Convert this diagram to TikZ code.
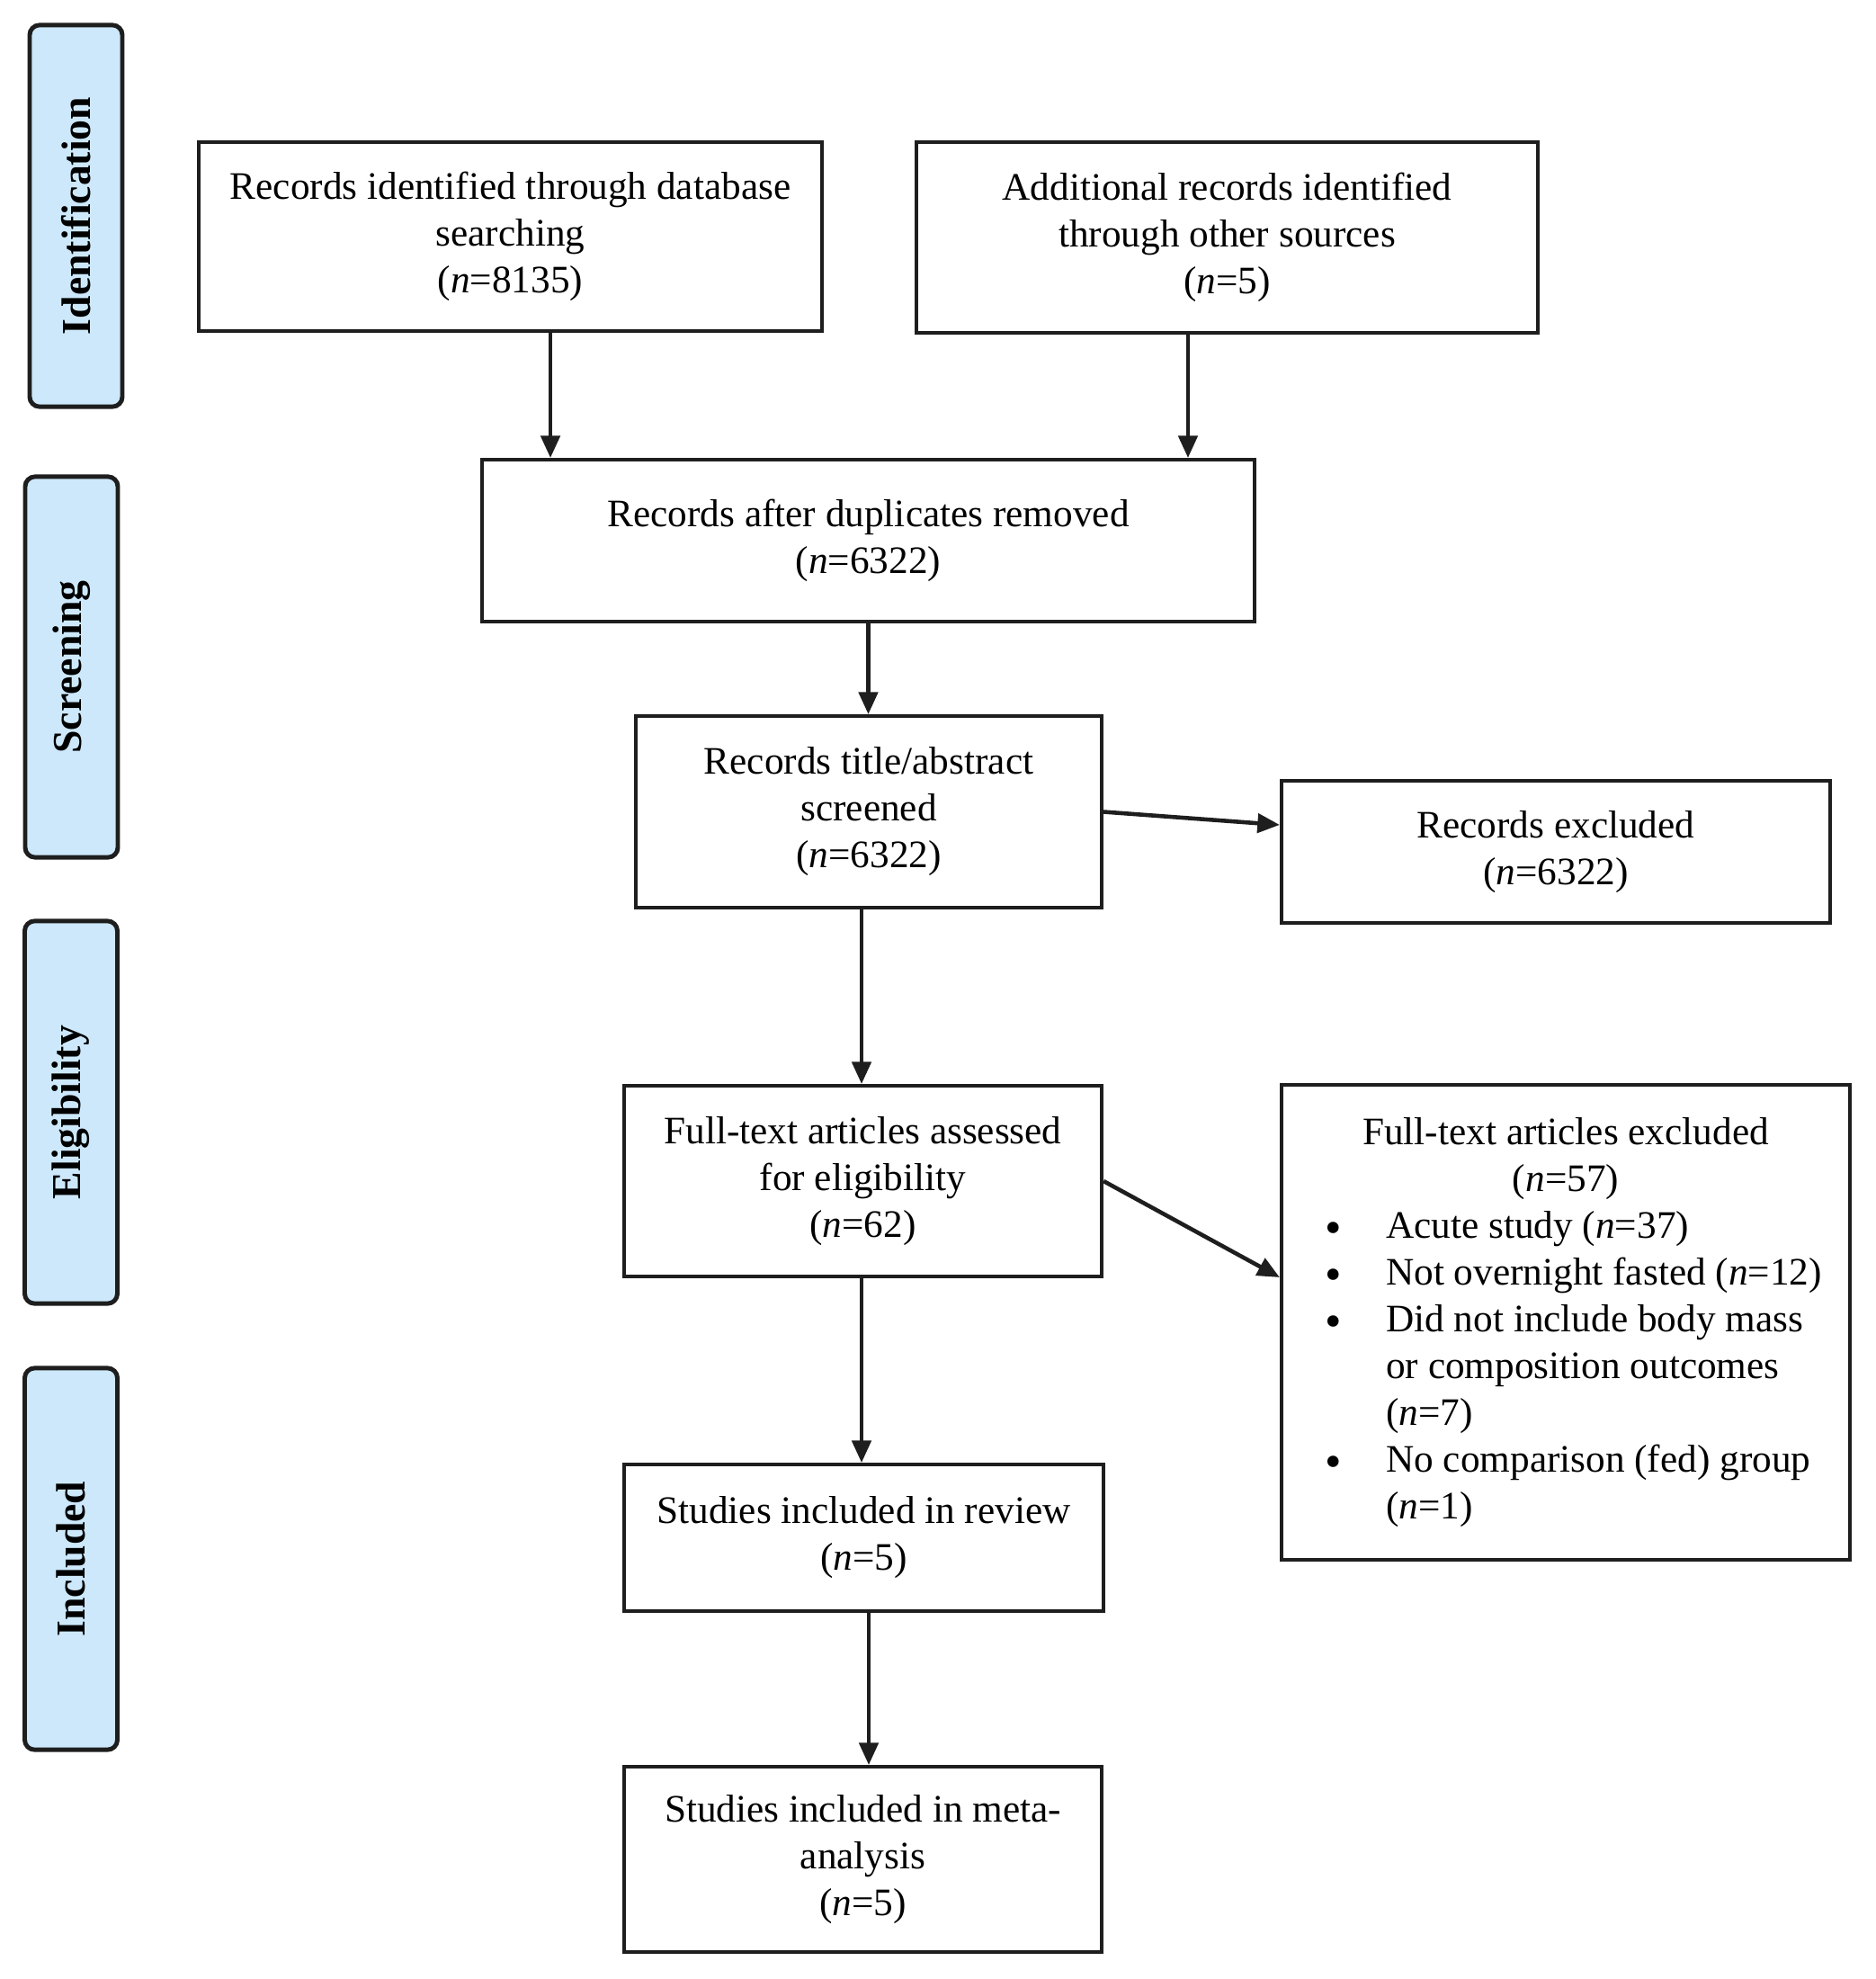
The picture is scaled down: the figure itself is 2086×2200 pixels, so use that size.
\documentclass[tikz,border=0pt]{standalone}
\usepackage{fontspec}
\setmainfont{Liberation Serif}
\usetikzlibrary{arrows.meta}
\definecolor{sidefill}{HTML}{CCE8FA}
\definecolor{ink}{HTML}{1E1E1E}
\newcommand{\bul}{\hspace{0.17cm}\smash{\raisebox{-1.8pt}{\fontsize{15}{14.8}\selectfont\textbullet}}}
\begin{document}
\begin{tikzpicture}[x=0.01cm, y=-0.01cm,
  box/.style={draw=ink, line width=1.1pt, rectangle, align=center, inner sep=0pt,
    font=\fontsize{12.3}{14.8}\selectfont},
  side/.style={draw=ink, line width=1.4pt, fill=sidefill, rounded corners=0.11cm,
    rotate=90, minimum height=1.03cm, inner sep=0pt,
    font=\fontsize{13}{15}\selectfont\bfseries},
  arr/.style={draw=ink, line width=1.3pt, -{Triangle[length=7pt,width=6pt]}}]
\useasboundingbox (0,0) rectangle (2086,2200);

% phase labels
\node[side, minimum width=4.24cm] (sid) at (84.5,240) {Identification};
\node[side, minimum width=4.23cm] (ssc) at (79.5,741.5) {Screening};
\node[side, minimum width=4.25cm] (sel) at (79,1236.5) {Eligibility};
\node[side, minimum width=4.24cm] (sin) at (79,1733) {Included};

% boxes
\node[box, minimum width=6.93cm, minimum height=2.10cm] (b1) at (567.5,263)
  {Records identified through database\\searching\\(\textit{n}=8135)};
\node[box, minimum width=6.91cm, minimum height=2.12cm] (b2) at (1364.5,264)
  {Additional records identified\\through other sources\\(\textit{n}=5)};
\node[box, minimum width=8.59cm, minimum height=1.80cm] (b3) at (965.5,601)
  {Records after duplicates removed\\(\textit{n}=6322)};
\node[box, minimum width=5.18cm, minimum height=2.13cm] (b4) at (966,902.5)
  {Records title/abstract\\screened\\(\textit{n}=6322)};
\node[box, minimum width=6.10cm, minimum height=1.58cm] (bx) at (1730,947)
  {Records excluded\\(\textit{n}=6322)};
\node[box, minimum width=5.31cm, minimum height=2.12cm] (b5) at (959.5,1313)
  {Full-text articles assessed\\for eligibility\\(\textit{n}=62)};
\node[box, minimum width=6.32cm, minimum height=5.28cm] (b8) at (1741,1470)
  {\begin{tabular}{@{}p{0.85cm}@{}l@{}}
   \multicolumn{2}{@{}c@{}}{Full-text articles excluded}\\
   \multicolumn{2}{@{}c@{}}{(\textit{n}=57)}\\
   \bul & Acute study (\textit{n}=37)\\
   \bul & Not overnight fasted (\textit{n}=12)\\
   \bul & Did not include body mass\\
    & or composition outcomes\\
    & (\textit{n}=7)\\
   \bul & No comparison (fed) group\\
    & (\textit{n}=1)
   \end{tabular}};
\node[box, minimum width=5.33cm, minimum height=1.63cm] (b6) at (960.5,1709.5)
  {Studies included in review\\(\textit{n}=5)};
\node[box, minimum width=5.31cm, minimum height=2.06cm] (b7) at (959.5,2067)
  {Studies included in meta-\\analysis\\(\textit{n}=5)};

% connectors
\draw[arr] ([xshift=0.445cm]b1.south) -- ([xshift=0.445cm]b1.south |- b3.north);
\draw[arr] ([xshift=-0.435cm]b2.south) -- ([xshift=-0.435cm]b2.south |- b3.north);
\draw[arr] (b3.south) -- (b3.south |- b4.north);
\draw[arr] ([xshift=-0.08cm]b4.south) -- ([xshift=-0.08cm]b4.south |- b5.north);
\draw[arr] ([xshift=-0.015cm]b5.south) -- ([xshift=-0.015cm]b5.south |- b6.north);
\draw[arr] ([xshift=0.055cm]b6.south) -- ([xshift=0.055cm]b6.south |- b7.north);
\draw[arr] (b4.east) -- ([yshift=0.30cm]bx.west);
\draw[arr] (b5.east) -- ([yshift=0.50cm]b8.west);
\end{tikzpicture}
\end{document}
